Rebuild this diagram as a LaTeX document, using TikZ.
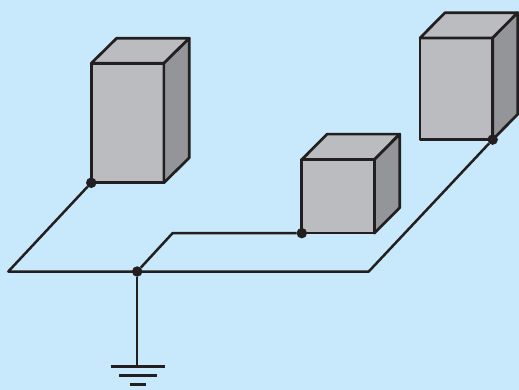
\documentclass[tikz,border=0pt]{standalone}
\definecolor{skyblue}{HTML}{C8E9FB}
\definecolor{frontgray}{HTML}{BBBCC0}
\definecolor{sidegray}{HTML}{939598}
\definecolor{wireblack}{HTML}{231F20}
\begin{document}
\begin{tikzpicture}[x=1pt, y=-1pt, line join=round,
  wire/.style = {draw=wireblack, line width=2.5pt},
  bar/.style = {draw=wireblack, line width=2.9pt},
  face/.style = {draw=wireblack, line width=2.7pt, fill=frontgray},
  side/.style = {face, fill=sidegray},
  main/.style = {face, rectangle, anchor=south west, inner sep=0pt, outer sep=0pt},
  dot/.style = {circle, fill=wireblack, inner sep=0pt, outer sep=0pt, minimum size=10.5pt}]
\fill[skyblue] (0,0) rectangle (519,390);

\node[main, minimum width=72.7pt, minimum height=119.6pt] (tall) at (91.3,182.9) {};
\draw[face] (tall.north west) -- ++(25.4,-25) -- ++(72.7,0) -- (tall.north east) -- cycle;
\draw[side] (tall.north east) -- ++(25.4,-25) -- ++(0,119.6) -- (tall.south east) -- cycle;

\node[main, minimum width=72.7pt, minimum height=73.6pt] (small) at (302,233.3) {};
\draw[face] (small.north west) -- ++(25.3,-25.5) -- ++(72.7,0) -- (small.north east) -- cycle;
\draw[side] (small.north east) -- ++(25.3,-25.5) -- ++(0,73.6) -- (small.south east) -- cycle;

\node[main, minimum width=72.7pt, minimum height=101.7pt] (far) at (420.3,139.7) {};
\draw[face] (far.north west) -- ++(25,-25.3) -- ++(72.7,0) -- (far.north east) -- cycle;
\draw[side] (far.north east) -- ++(25,-25.3) -- ++(0,101.7) -- (far.south east) -- cycle;

\node[dot] (d1) at (tall.south west) {};
\node[dot] (d2) at (small.south west) {};
\node[dot] (d3) at (far.south east) {};
\node[dot] (d4) at (137.3,271.7) {};

\coordinate (left) at (8.3,271.7);
\coordinate (right) at (369,271.7);
\coordinate (bend) at (172.7,233.3);
\coordinate (earth) at (137.3,366.4);
\coordinate (g1a) at (110.7,366.4);
\coordinate (g1b) at (165,366.4);
\coordinate (g2a) at (119.3,375.7);
\coordinate (g2b) at (156.7,375.7);
\coordinate (g3a) at (130,384.7);
\coordinate (g3b) at (146,384.7);

\draw[wire] (d1) -- (left) -- (right) -- (d3);
\draw[wire] (d4) -- (bend) -- (d2);
\draw[wire] (d4) -- (earth);
\draw[bar] (g1a) -- (g1b);
\draw[bar] (g2a) -- (g2b);
\draw[bar] (g3a) -- (g3b);
\end{tikzpicture}
\end{document}
